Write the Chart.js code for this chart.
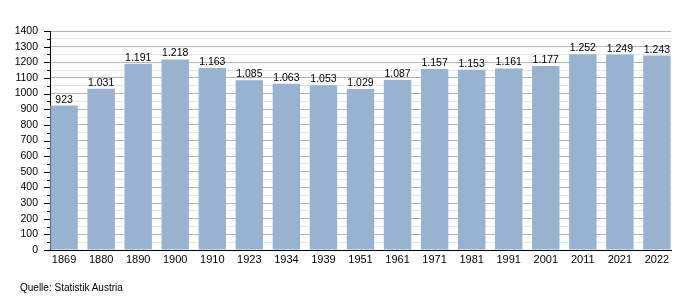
<!DOCTYPE html>
<html>
<head>
<meta charset="utf-8">
<script src="https://cdn.jsdelivr.net/npm/chart.js@4.4.0/dist/chart.umd.min.js"></script>
<style>
  html, body { margin: 0; padding: 0; background: #ffffff; }
  #wrap { position: relative; width: 700px; height: 300px; }
  #source { position: absolute; left: 20px; top: 282px; font: 10px "Liberation Sans", Arial, sans-serif; color: #000; }
</style>
</head>
<body>
<div id="wrap">
  <canvas id="c" width="700" height="300"></canvas>
  <div id="source">Quelle: Statistik Austria</div>
</div>
<script>
const categories = ["1869","1880","1890","1900","1910","1923","1934","1939","1951","1961","1971","1981","1991","2001","2011","2021","2022"];
const values = [923, 1031, 1191, 1218, 1163, 1085, 1063, 1053, 1029, 1087, 1157, 1153, 1161, 1177, 1252, 1249, 1243];
const yMax = 1400;
const yMajorStep = 100;
const yMinorStep = 50;

const fmt = new Intl.NumberFormat('de-DE');
const FONT = '"Liberation Sans", Arial, sans-serif';

const tickPlugin = {
  id: 'yticks',
  afterDraw(chart) {
    const y = chart.scales.y;
    const ctx = chart.ctx;
    ctx.save();
    ctx.strokeStyle = '#000';
    ctx.lineWidth = 1;
    for (let v = 0; v <= yMax; v += yMinorStep) {
      const py = Math.round(y.getPixelForValue(v)) + 0.5;
      const len = (v % yMajorStep === 0) ? 6 : 3;
      ctx.beginPath();
      ctx.moveTo(chart.chartArea.left - len, py);
      ctx.lineTo(chart.chartArea.left, py);
      ctx.stroke();
    }
    ctx.restore();
  },
  afterDatasetsDraw(chart) {
    const ctx = chart.ctx;
    const meta = chart.getDatasetMeta(0);
    ctx.save();
    ctx.font = '10.5px ' + FONT;
    ctx.fillStyle = '#000';
    ctx.textAlign = 'center';
    ctx.textBaseline = 'alphabetic';
    meta.data.forEach((bar, i) => {
      ctx.fillText(fmt.format(values[i]), bar.x, bar.y - 3);
    });
    ctx.restore();
  }
};

new Chart(document.getElementById('c'), {
  type: 'bar',
  data: {
    datasets: [{
      data: values.map((v, i) => ({ x: i, y: v })),
      backgroundColor: '#97b3cf',
      borderWidth: 0,
      barPercentage: 0.74,
      categoryPercentage: 1.0
    }]
  },
  options: {
    responsive: false,
    animation: false,
    events: [],
    layout: { padding: { left: 0, right: 29, top: 31, bottom: 30 } },
    plugins: { legend: { display: false }, tooltip: { enabled: false } },
    scales: {
      x: {
        type: 'linear',
        offset: false,
        min: -0.38,
        max: categories.length - 1 + 0.38,
        afterBuildTicks: (s) => { s.ticks = categories.map((_, i) => ({ value: i })); },
        afterFit: (s) => { s.height = 20; },
        grid: { display: true, offset: false, drawOnChartArea: false, drawTicks: false },
        border: { display: true, color: '#000', width: 1 },
        ticks: {
          autoSkip: false,
          maxRotation: 0,
          padding: 3,
          color: '#000',
          font: { family: FONT, size: 11 },
          callback: (v) => categories[v] ?? ''
        }
      },
      y: {
        min: 0,
        max: yMax,
        afterFit: (s) => { s.width = 50; },
        grid: {
          drawTicks: false,
          color: (c) => (c.tick && c.tick.value % yMajorStep === 0) ? '#b4b4b4' : '#e6e6e6',
          lineWidth: 1
        },
        border: { display: true, color: '#000', width: 1 },
        ticks: {
          stepSize: yMinorStep,
          autoSkip: false,
          padding: 12,
          color: '#000',
          font: { family: FONT, size: 10.5 },
          callback: (v) => (v % yMajorStep === 0) ? String(v) : ''
        }
      }
    }
  },
  plugins: [tickPlugin]
});
</script>
</body>
</html>
